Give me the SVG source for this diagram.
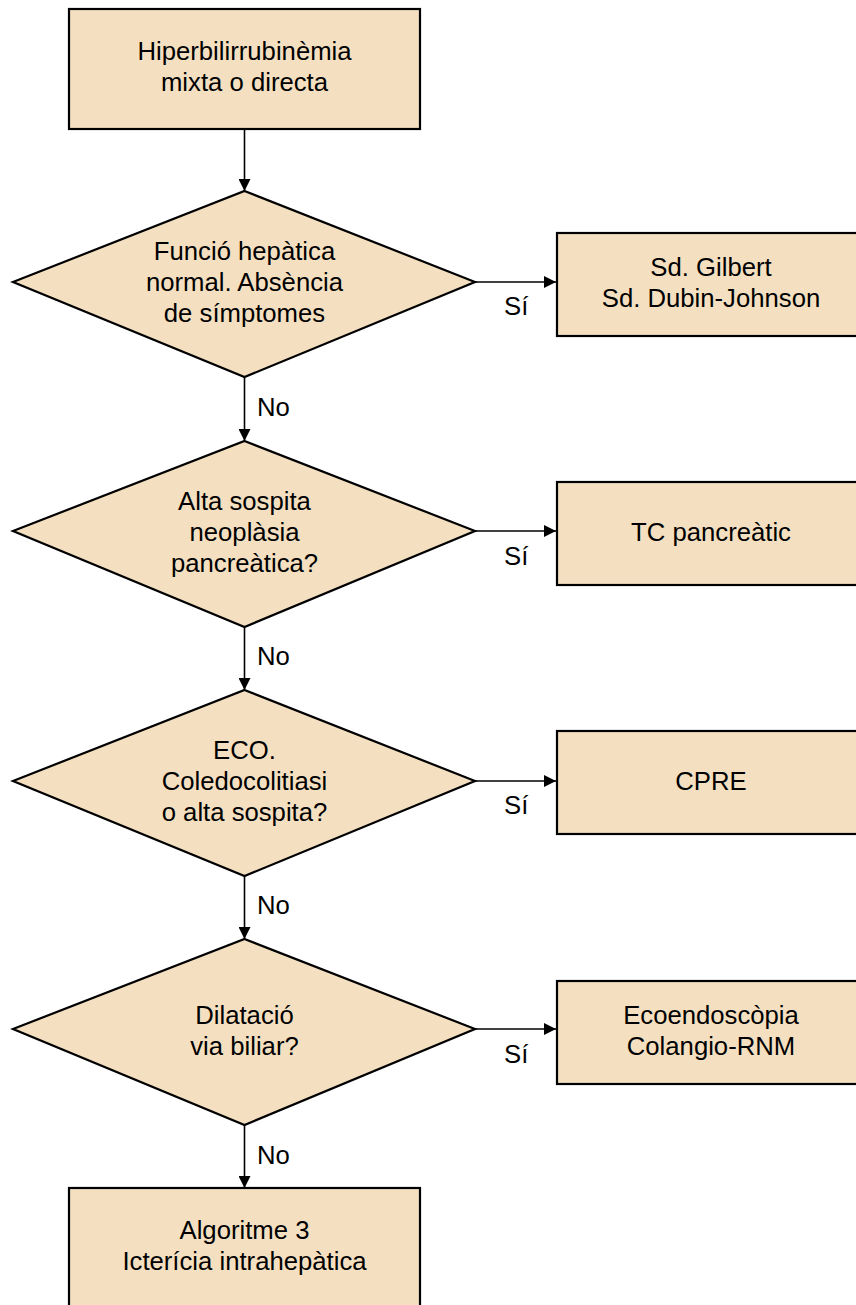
<svg xmlns="http://www.w3.org/2000/svg" width="856" height="1305" viewBox="0 0 856 1305">
<style>
.box{fill:#F4E0C1;stroke:#000;stroke-width:2.2}
.t{font-family:"Liberation Sans",Arial,sans-serif;font-size:25.7px;fill:#000;text-anchor:middle}
.l{font-family:"Liberation Sans",Arial,sans-serif;font-size:25.7px;fill:#000}
.c{stroke:#000;stroke-width:1.6;fill:none;marker-end:url(#ah)}
</style>
<defs>
<marker id="ah" viewBox="0 0 12 12" refX="12" refY="6" markerWidth="12" markerHeight="12" markerUnits="userSpaceOnUse" orient="auto">
<path d="M0,0 L12,6 L0,12 Z" fill="#000"/>
</marker>
</defs>
<rect width="856" height="1305" fill="#fff"/>
<g id="connectors">
<line class="c" x1="244.5" y1="129" x2="244.5" y2="191"/>
<line class="c" x1="244.5" y1="377" x2="244.5" y2="441"/>
<line class="c" x1="244.5" y1="627" x2="244.5" y2="690"/>
<line class="c" x1="244.5" y1="876" x2="244.5" y2="939"/>
<line class="c" x1="244.5" y1="1125" x2="244.5" y2="1188"/>
<line class="c" x1="475" y1="282" x2="556" y2="282"/>
<line class="c" x1="475" y1="531" x2="556" y2="531"/>
<line class="c" x1="475" y1="781" x2="556" y2="781"/>
<line class="c" x1="475" y1="1029" x2="556" y2="1029"/>
<text class="l" x="504" y="315">Sí</text>
<text class="l" x="504" y="565">Sí</text>
<text class="l" x="504" y="814">Sí</text>
<text class="l" x="504" y="1063">Sí</text>
<text class="l" x="257" y="416">No</text>
<text class="l" x="257" y="665">No</text>
<text class="l" x="257" y="914">No</text>
<text class="l" x="257" y="1164">No</text>
</g>
<g id="start">
<rect class="box" x="69" y="9" width="351" height="120"/>
<text class="t" x="244.5" y="60">Hiperbilirrubinèmia</text>
<text class="t" x="244.5" y="91">mixta o directa</text>
</g>
<g id="d1">
<polygon class="box" points="244.5,191 475,282 244.5,377 13,282"/>
<text class="t" x="244.5" y="260">Funció hepàtica</text>
<text class="t" x="244.5" y="291">normal. Absència</text>
<text class="t" x="244.5" y="322">de símptomes</text>
</g>
<g id="r1">
<rect class="box" x="557" y="233" width="310" height="103"/>
<text class="t" x="711" y="276">Sd. Gilbert</text>
<text class="t" x="711" y="307">Sd. Dubin-Johnson</text>
</g>
<g id="d2">
<polygon class="box" points="244.5,441 475,531 244.5,627 13,531"/>
<text class="t" x="244.5" y="510">Alta sospita</text>
<text class="t" x="244.5" y="541">neoplàsia</text>
<text class="t" x="244.5" y="572">pancreàtica?</text>
</g>
<g id="r2">
<rect class="box" x="557" y="482" width="310" height="103"/>
<text class="t" x="711" y="541">TC pancreàtic</text>
</g>
<g id="d3">
<polygon class="box" points="244.5,690 475,781 244.5,876 13,781"/>
<text class="t" x="244.5" y="759">ECO.</text>
<text class="t" x="244.5" y="790">Coledocolitiasi</text>
<text class="t" x="244.5" y="821">o alta sospita?</text>
</g>
<g id="r3">
<rect class="box" x="557" y="731" width="310" height="103"/>
<text class="t" x="711" y="790">CPRE</text>
</g>
<g id="d4">
<polygon class="box" points="244.5,939 475,1029 244.5,1125 13,1029"/>
<text class="t" x="244.5" y="1024">Dilatació</text>
<text class="t" x="244.5" y="1055">via biliar?</text>
</g>
<g id="r4">
<rect class="box" x="557" y="981" width="310" height="103"/>
<text class="t" x="711" y="1024">Ecoendoscòpia</text>
<text class="t" x="711" y="1055">Colangio-RNM</text>
</g>
<g id="end">
<rect class="box" x="69" y="1188" width="351" height="125"/>
<text class="t" x="244.5" y="1239">Algoritme 3</text>
<text class="t" x="244.5" y="1270">Icterícia intrahepàtica</text>
</g>
</svg>
